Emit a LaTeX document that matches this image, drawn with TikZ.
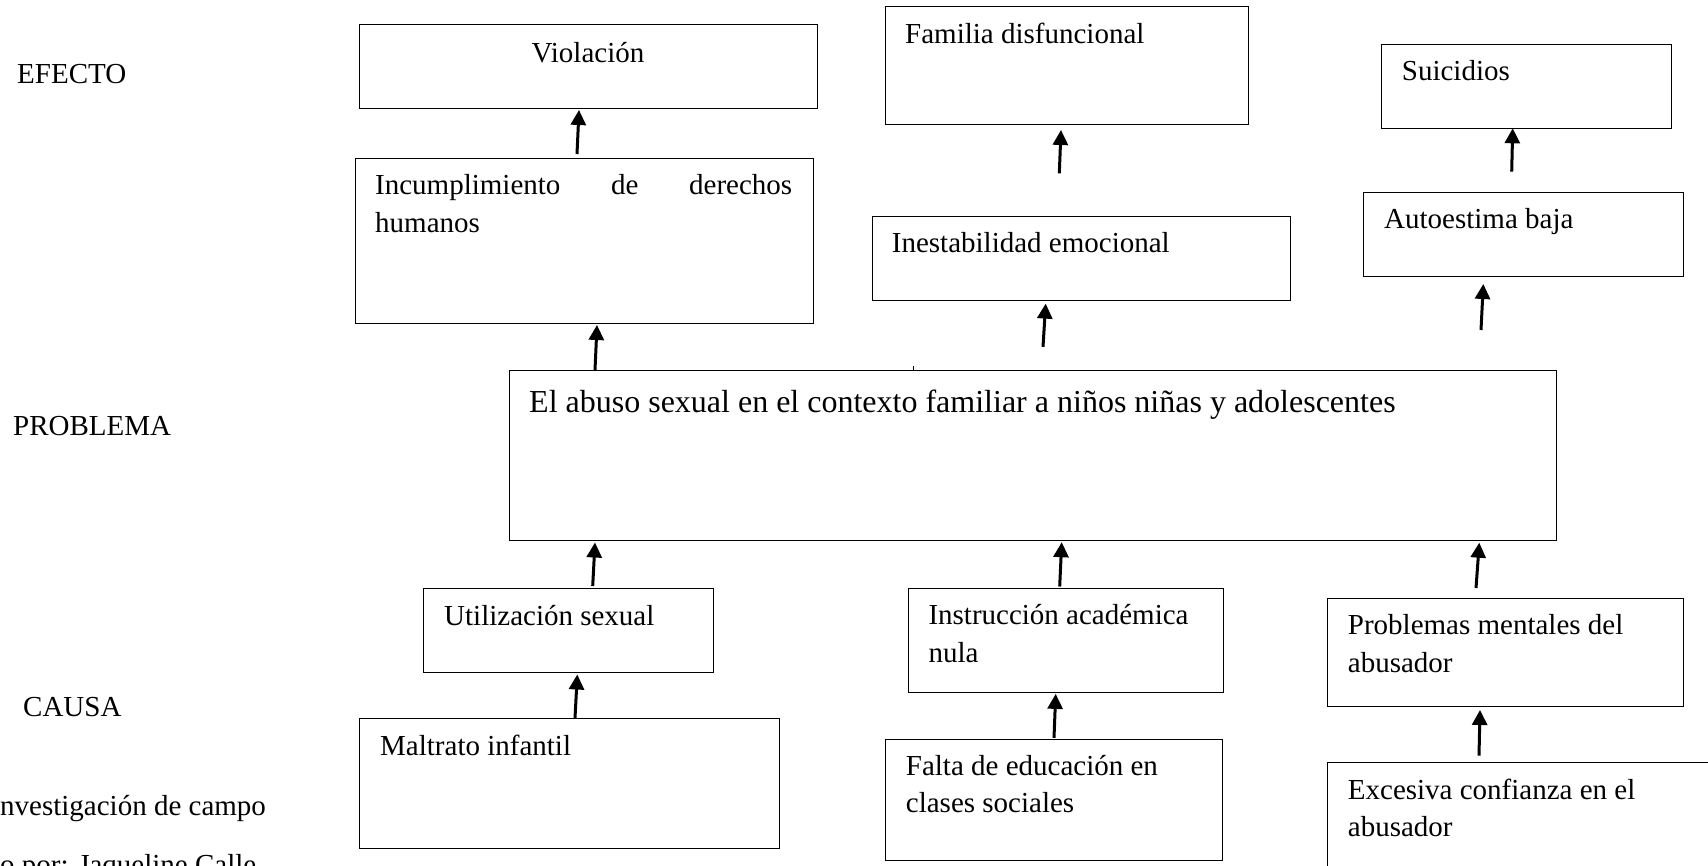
\documentclass[tikz,border=0pt]{standalone}
\usepackage{fontspec}
\setmainfont{Liberation Serif}
\usetikzlibrary{arrows.meta}
\begin{document}
\begin{tikzpicture}[x=1pt,y=-1pt,
  box/.style={draw, line width=1.4pt, inner sep=0pt, anchor=north west},
  txt/.style={anchor=base west, inner sep=0pt, font=\fontsize{29}{38.5}\selectfont},
  bigtxt/.style={anchor=base west, inner sep=0pt, font=\fontsize{32}{40}\selectfont},
  arr/.style={line width=3pt, -{Triangle[length=15pt,width=15pt]}}]
\useasboundingbox (0,0) rectangle (1708,865);
\fill[white] (0,0) rectangle (1708,865);
\clip (0,0) rectangle (1708,865);

% side labels
\node[txt] (lefecto) at (17,83) {EFECTO};
\node[txt] (lproblema) at (13,435) {PROBLEMA};
\node[txt] (lcausa) at (23,716) {CAUSA};
\node[txt] (lfuente) at (0,815) {nvestigación de campo};
\node[txt] (lelab) at (0,874) {o por: Jaqueline Calle};

% boxes
\node[box, minimum width=458pt, minimum height=84pt] (viol) at (359,24) {};
\node[box, minimum width=458pt, minimum height=165pt] (incum) at (355,158) {};
\node[box, minimum width=363pt, minimum height=118pt] (fam) at (885,6) {};
\node[box, minimum width=418pt, minimum height=84pt] (inest) at (872,216) {};
\node[box, minimum width=290pt, minimum height=84pt] (suic) at (1381,44) {};
\node[box, minimum width=320pt, minimum height=84pt] (autoe) at (1363,192) {};
\node[box, minimum width=1047pt, minimum height=170pt] (prob) at (509,370) {};
\node[box, minimum width=290pt, minimum height=84pt] (util) at (423,588) {};
\node[box, minimum width=315pt, minimum height=104pt] (instr) at (908,588) {};
\node[box, minimum width=356pt, minimum height=108pt] (probm) at (1327,598) {};
\node[box, minimum width=420pt, minimum height=130pt] (malt) at (359,718) {};
\node[box, minimum width=337pt, minimum height=121pt] (falta) at (885,739) {};
\node[box, minimum width=400pt, minimum height=140pt] (exc) at (1327,762) {};

% texts
\node[txt, anchor=base] (violT) at (588,62) {Violación};
\node[txt] (incumT) at (375,194.3) {\parbox[t]{417pt}{\makebox[417pt][s]{Incumplimiento\hfill de\hfill derechos}\\humanos}};
\node[txt] (famT) at (905,43.3) {Familia disfuncional};
\node[txt] (inestT) at (891.7,252.3) {Inestabilidad emocional};
\node[txt] (suicT) at (1401.7,80.7) {Suicidios};
\node[txt] (autoeT) at (1384,228.3) {Autoestima baja};
\node[bigtxt] (probT) at (529,412) {El abuso sexual en el contexto familiar a niños niñas y adolescentes};
\node[txt] (utilT) at (444,625.2) {Utilización sexual};
\node[txt] (instrT) at (928.3,624.3) {\parbox[t]{290pt}{\raggedright Instrucción académica\\nula}};
\node[txt] (probmT) at (1347.7,634) {\parbox[t]{330pt}{\raggedright Problemas mentales del\\abusador}};
\node[txt] (maltT) at (380,755.5) {Maltrato infantil};
\node[txt] (faltaT) at (905.7,775.7) {\parbox[t]{310pt}{\fontsize{29}{37.1}\selectfont\raggedright Falta de educación en\\clases sociales}};
\node[txt] (excT) at (1347.7,799.3) {\parbox[t]{340pt}{\fontsize{29}{37.4}\selectfont\raggedright Excesiva confianza en el\\abusador}};

% arrow end points
\coordinate (a1s) at (577,154);    \coordinate (a1e) at (579,110);
\coordinate (a2s) at (595,370);    \coordinate (a2e) at (597,325);
\coordinate (a3s) at (1059.3,173.3); \coordinate (a3e) at (1061,130);
\coordinate (a4s) at (1043,346.8); \coordinate (a4e) at (1045.7,303.6);
\coordinate (a5s) at (1511.7,171.7); \coordinate (a5e) at (1512.7,128.3);
\coordinate (a6s) at (1481,330);   \coordinate (a6e) at (1483.3,284);
\coordinate (a7s) at (592.7,586);  \coordinate (a7e) at (595,542.5);
\coordinate (a8s) at (575,718);    \coordinate (a8e) at (577.3,674.5);
\coordinate (a9s) at (1059.7,586.5); \coordinate (a9e) at (1061.7,542.2);
\coordinate (a10s) at (1054,737.8); \coordinate (a10e) at (1055.7,693.9);
\coordinate (a11s) at (1476,588);  \coordinate (a11e) at (1479.3,542.7);
\coordinate (a12s) at (1479,755.7); \coordinate (a12e) at (1480,710);

\draw[arr] (a1s) -- (a1e);
\draw[arr] (a2s) -- (a2e);
\draw[arr] (a3s) -- (a3e);
\draw[arr] (a4s) -- (a4e);
\draw[arr] (a5s) -- (a5e);
\draw[arr] (a6s) -- (a6e);
\draw[arr] (a7s) -- (a7e);
\draw[arr] (a8s) -- (a8e);
\draw[arr] (a9s) -- (a9e);
\draw[arr] (a10s) -- (a10e);
\draw[arr] (a11s) -- (a11e);
\draw[arr] (a12s) -- (a12e);

% small tick on problem box
\coordinate (tk1) at (913.3,370); \coordinate (tk2) at (913.3,366);
\draw[line width=1.5pt] (tk1) -- (tk2);
\end{tikzpicture}
\end{document}
